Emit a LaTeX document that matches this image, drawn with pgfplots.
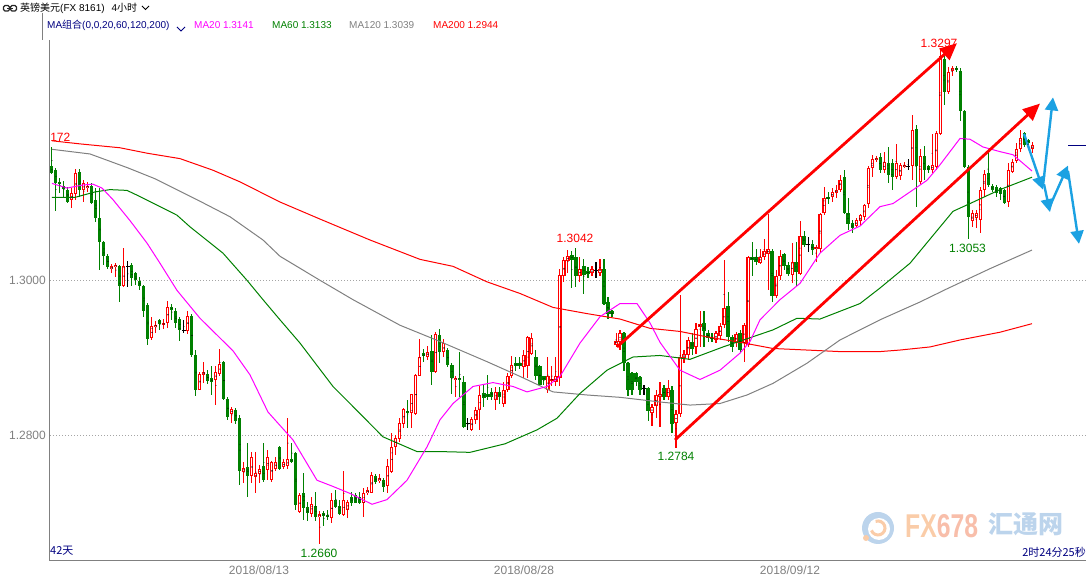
\documentclass[border=0pt]{standalone}
\usepackage{fontspec}
\setmainfont{Liberation Sans}
\newfontfamily\cjk{Noto Sans CJK SC}
\usepackage{graphicx}
\usepackage{pgfplots}
\usepackage{pgfplotstable}
\pgfplotsset{compat=1.18}
\usetikzlibrary{arrows.meta}

\definecolor{cred}{RGB}{255,0,0}
\definecolor{cgreen}{RGB}{0,128,0}
\definecolor{cmag}{RGB}{255,0,255}
\definecolor{cgray}{RGB}{128,128,128}
\definecolor{cnavy}{RGB}{0,0,128}
\definecolor{cblue}{RGB}{27,161,226}
\definecolor{cgrid}{RGB}{165,165,165}
\definecolor{wmorange}{RGB}{250,204,168}
\definecolor{wmpink}{RGB}{248,190,170}
\definecolor{wmblue}{RGB}{188,212,236}

\newcommand\flbl{\fontsize{12}{14}\selectfont}
\newcommand\flgd{\fontsize{10}{12}\selectfont}

\pgfplotsset{
  candlebar/.style={only marks, mark=*, mark size=0.2pt, mark options={draw=none, fill=none},
    error bars/.cd, y dir=both, y explicit, error mark=none,
    error bar style={draw=#1, line width=1pt}},
  candlebody/.style 2 args={only marks, mark=*, mark size=0.2pt, mark options={draw=none, fill=none},
    error bars/.cd, y dir=both, y explicit, error mark=none,
    error bar style={draw=#1, line width=#2}},
}

% rising candles (red, hollow): i open high low close
\pgfplotstableread{
i o h l c
5 1.3104 1.3119 1.3094 1.3113
6 1.3111 1.3144 1.3104 1.3138
8 1.3116 1.3129 1.3101 1.3125
9 1.3119 1.3127 1.3114 1.3122
15 1.3015 1.3021 1.3009 1.3018
16 1.3017 1.3022 1.3004 1.3020
18 1.2993 1.3042 1.2991 1.3018
25 1.2925 1.2953 1.2923 1.2941
26 1.2940 1.2948 1.2932 1.2943
28 1.2943 1.2950 1.2937 1.2945
29 1.2945 1.2973 1.2939 1.2966
34 1.2935 1.2960 1.2931 1.2954
37 1.2859 1.2882 1.2858 1.2879
38 1.2878 1.2895 1.2867 1.2882
41 1.2871 1.2890 1.2839 1.2882
42 1.2879 1.2911 1.2877 1.2892
45 1.2828 1.2837 1.2816 1.2834
48 1.2753 1.2766 1.2739 1.2758
50 1.2747 1.2779 1.2738 1.2772
51 1.2746 1.2779 1.2726 1.2751
52 1.2750 1.2762 1.2738 1.2757
54 1.2755 1.2781 1.2742 1.2772
55 1.2743 1.2767 1.2740 1.2766
56 1.2756 1.2772 1.2754 1.2766
58 1.2759 1.2769 1.2756 1.2765
59 1.2760 1.2823 1.2757 1.2769
62 1.2701 1.2726 1.2700 1.2723
65 1.2699 1.2721 1.2695 1.2711
67 1.2695 1.2703 1.2660 1.2698
70 1.2694 1.2725 1.2687 1.2717
73 1.2697 1.2754 1.2696 1.2717
74 1.2704 1.2717 1.2693 1.2714
78 1.2713 1.2732 1.2695 1.2726
79 1.2726 1.2733 1.2723 1.2729
80 1.2726 1.2753 1.2725 1.2749
82 1.2741 1.2750 1.2738 1.2745
84 1.2735 1.2770 1.2726 1.2760
85 1.2753 1.2803 1.2752 1.2785
86 1.2785 1.2800 1.2775 1.2797
87 1.2795 1.2822 1.2792 1.2816
88 1.2815 1.2835 1.2810 1.2834
90 1.2829 1.2854 1.2810 1.2853
91 1.2827 1.2879 1.2826 1.2878
92 1.2877 1.2924 1.2876 1.2901
94 1.2901 1.2915 1.2897 1.2908
96 1.2882 1.2933 1.2881 1.2931
98 1.2907 1.2924 1.2901 1.2919
101 1.2871 1.2876 1.2850 1.2874
105 1.2807 1.2824 1.2806 1.2821
106 1.2820 1.2837 1.2815 1.2833
107 1.2832 1.2863 1.2807 1.2852
111 1.2846 1.2863 1.2833 1.2856
113 1.2840 1.2869 1.2837 1.2859
114 1.2859 1.2880 1.2856 1.2876
115 1.2876 1.2902 1.2874 1.2891
118 1.2888 1.2910 1.2874 1.2904
119 1.2889 1.2928 1.2874 1.2927
120 1.2905 1.2932 1.2904 1.2926
124 1.2859 1.2901 1.2854 1.2876
125 1.2871 1.2889 1.2864 1.2873
126 1.2869 1.2901 1.2863 1.2876
127 1.2874 1.3015 1.2863 1.3007
128 1.3005 1.3030 1.2998 1.3026
129 1.3025 1.3039 1.3009 1.3031
132 1.3005 1.3030 1.2998 1.3015
135 1.3010 1.3018 1.3005 1.3014
137 1.3010 1.3028 1.3005 1.3015
141 1.2917 1.2932 1.2914 1.2922
142 1.2921 1.2936 1.2910 1.2932
150 1.2829 1.2841 1.2812 1.2836
151 1.2838 1.2858 1.2822 1.2852
152 1.2850 1.2869 1.2811 1.2854
154 1.2850 1.2871 1.2846 1.2861
156 1.2816 1.2833 1.2784 1.2827
157 1.2827 1.2981 1.2824 1.2901
158 1.2900 1.2910 1.2893 1.2905
159 1.2904 1.2927 1.2897 1.2923
161 1.2914 1.2945 1.2905 1.2937
162 1.2940 1.2960 1.2914 1.2944
166 1.2923 1.2934 1.2919 1.2932
167 1.2928 1.2945 1.2923 1.2941
168 1.2942 1.3026 1.2938 1.2964
171 1.2919 1.2934 1.2914 1.2931
173 1.2919 1.2945 1.2895 1.2942
174 1.2917 1.3031 1.2914 1.3030
177 1.3023 1.3041 1.3021 1.3030
178 1.3030 1.3053 1.3026 1.3038
179 1.3034 1.3086 1.2987 1.3040
181 1.2980 1.3013 1.2977 1.3006
182 1.3006 1.3039 1.3000 1.3031
185 1.3007 1.3048 1.2996 1.3024
187 1.3008 1.3076 1.3007 1.3057
191 1.3040 1.3046 1.3024 1.3043
192 1.3041 1.3087 1.3035 1.3086
193 1.3087 1.3121 1.3084 1.3106
195 1.3107 1.3119 1.3101 1.3114
196 1.3113 1.3123 1.3106 1.3117
197 1.3117 1.3136 1.3114 1.3130
201 1.3070 1.3080 1.3067 1.3078
202 1.3076 1.3086 1.3071 1.3084
203 1.3082 1.3099 1.3078 1.3097
204 1.3099 1.3147 1.3093 1.3145
205 1.3145 1.3162 1.3134 1.3157
206 1.3155 1.3160 1.3153 1.3158
208 1.3142 1.3166 1.3139 1.3152
211 1.3134 1.3176 1.3131 1.3152
212 1.3134 1.3152 1.3129 1.3149
213 1.3146 1.3152 1.3145 1.3149
215 1.3147 1.3213 1.3129 1.3194
217 1.3127 1.3170 1.3124 1.3160
220 1.3142 1.3189 1.3139 1.3149
221 1.3146 1.3192 1.3142 1.3190
222 1.3189 1.3297 1.3187 1.3289
224 1.3243 1.3275 1.3241 1.3269
225 1.3270 1.3276 1.3263 1.3274
230 1.3076 1.3091 1.3069 1.3087
231 1.3080 1.3091 1.3067 1.3087
232 1.3078 1.3121 1.3061 1.3117
233 1.3117 1.3142 1.3108 1.3137
239 1.3101 1.3151 1.3095 1.3142
240 1.3140 1.3157 1.3138 1.3153
241 1.3154 1.3177 1.3152 1.3169
242 1.3169 1.3194 1.3166 1.3183
245 1.3169 1.3179 1.3164 1.3175
}\upc

% falling candles (green, filled)
\pgfplotstableread{
i o h l c
0 1.3147 1.3172 1.3137 1.3139
1 1.3142 1.3145 1.3089 1.3126
2 1.3127 1.3132 1.3113 1.3124
3 1.3122 1.3128 1.3107 1.3118
4 1.3117 1.3121 1.3100 1.3101
7 1.3140 1.3144 1.3107 1.3116
10 1.3122 1.3125 1.3098 1.3100
11 1.3104 1.3119 1.3075 1.3081
12 1.3080 1.3119 1.3013 1.3050
13 1.3050 1.3051 1.3020 1.3031
14 1.3031 1.3034 1.3015 1.3017
17 1.3018 1.3020 1.2972 1.2993
20 1.3020 1.3022 1.2993 1.3003
21 1.3009 1.3011 1.2994 1.3000
22 1.2999 1.3004 1.2987 1.2992
23 1.2993 1.2994 1.2953 1.2961
24 1.2968 1.2971 1.2917 1.2924
27 1.2949 1.2950 1.2936 1.2944
30 1.2966 1.2969 1.2949 1.2962
31 1.2961 1.2964 1.2938 1.2945
32 1.2950 1.2953 1.2922 1.2936
35 1.2954 1.2957 1.2901 1.2904
36 1.2904 1.2910 1.2851 1.2859
39 1.2879 1.2884 1.2866 1.2870
40 1.2874 1.2889 1.2852 1.2869
43 1.2894 1.2896 1.2846 1.2847
44 1.2847 1.2849 1.2820 1.2823
46 1.2833 1.2835 1.2815 1.2818
47 1.2823 1.2826 1.2736 1.2754
49 1.2759 1.2790 1.2721 1.2748
53 1.2760 1.2790 1.2740 1.2742
57 1.2785 1.2786 1.2755 1.2757
60 1.2769 1.2790 1.2764 1.2766
61 1.2777 1.2778 1.2704 1.2710
63 1.2726 1.2751 1.2691 1.2706
64 1.2708 1.2714 1.2689 1.2700
66 1.2709 1.2727 1.2689 1.2695
68 1.2700 1.2703 1.2683 1.2696
69 1.2697 1.2704 1.2691 1.2694
71 1.2717 1.2729 1.2706 1.2708
72 1.2709 1.2717 1.2697 1.2698
75 1.2720 1.2727 1.2709 1.2713
76 1.2723 1.2726 1.2712 1.2713
77 1.2721 1.2727 1.2712 1.2713
81 1.2747 1.2750 1.2737 1.2740
83 1.2743 1.2745 1.2727 1.2733
89 1.2832 1.2846 1.2809 1.2829
93 1.2906 1.2911 1.2895 1.2902
95 1.2909 1.2929 1.2865 1.2882
97 1.2929 1.2937 1.2893 1.2907
99 1.2910 1.2912 1.2888 1.2891
100 1.2891 1.2893 1.2853 1.2874
102 1.2874 1.2907 1.2850 1.2872
103 1.2869 1.2876 1.2810 1.2811
108 1.2854 1.2865 1.2837 1.2848
109 1.2853 1.2878 1.2846 1.2849
110 1.2856 1.2861 1.2846 1.2850
112 1.2856 1.2863 1.2841 1.2850
116 1.2893 1.2901 1.2883 1.2889
117 1.2893 1.2901 1.2886 1.2889
121 1.2901 1.2910 1.2871 1.2876
122 1.2889 1.2891 1.2864 1.2865
123 1.2876 1.2877 1.2865 1.2871
130 1.3033 1.3038 1.2990 1.3026
131 1.3030 1.3042 1.2991 1.3005
133 1.3018 1.3028 1.2983 1.3007
134 1.3012 1.3017 1.3003 1.3008
138 1.3015 1.3028 1.2968 1.2970
139 1.2972 1.2979 1.2950 1.2957
140 1.2960 1.2962 1.2952 1.2956
143 1.2932 1.2933 1.2883 1.2893
144 1.2893 1.2894 1.2851 1.2858
145 1.2881 1.2882 1.2852 1.2858
146 1.2881 1.2882 1.2864 1.2869
147 1.2875 1.2876 1.2852 1.2859
149 1.2861 1.2862 1.2818 1.2831
153 1.2861 1.2865 1.2846 1.2849
155 1.2858 1.2863 1.2803 1.2815
160 1.2921 1.2932 1.2904 1.2912
163 1.2945 1.2961 1.2914 1.2934
164 1.2932 1.2936 1.2921 1.2925
165 1.2926 1.2932 1.2921 1.2924
169 1.2967 1.2985 1.2921 1.2927
170 1.2927 1.2929 1.2908 1.2914
172 1.2932 1.2936 1.2908 1.2910
175 1.3030 1.3050 1.3005 1.3026
176 1.3030 1.3040 1.3020 1.3024
180 1.3038 1.3040 1.2972 1.2980
183 1.3034 1.3035 1.3013 1.3018
184 1.3020 1.3024 1.3006 1.3008
186 1.3024 1.3050 1.2992 1.3011
188 1.3057 1.3063 1.3043 1.3046
190 1.3047 1.3052 1.3033 1.3039
194 1.3107 1.3114 1.3099 1.3105
198 1.3134 1.3142 1.3086 1.3087
199 1.3087 1.3106 1.3065 1.3073
200 1.3074 1.3078 1.3061 1.3068
207 1.3159 1.3164 1.3138 1.3142
209 1.3152 1.3172 1.3125 1.3136
210 1.3152 1.3156 1.3117 1.3134
216 1.3195 1.3200 1.3094 1.3147
218 1.3160 1.3173 1.3129 1.3142
219 1.3147 1.3149 1.3138 1.3142
223 1.3286 1.3291 1.3226 1.3243
226 1.3274 1.3277 1.3269 1.3271
227 1.3270 1.3274 1.3205 1.3218
228 1.3218 1.3220 1.3145 1.3146
229 1.3146 1.3149 1.3053 1.3082
234 1.3139 1.3166 1.3121 1.3123
235 1.3122 1.3124 1.3114 1.3117
236 1.3120 1.3123 1.3108 1.3113
237 1.3119 1.3121 1.3104 1.3112
238 1.3117 1.3118 1.3099 1.3100
243 1.3190 1.3191 1.3172 1.3175
244 1.3181 1.3183 1.3168 1.3177
}\dnc

% unchanged (doji, black)
\pgfplotstableread{
i o h l c
19 1.3018 1.3025 1.2992 1.3018
33 1.2935 1.2949 1.2932 1.2935
104 1.2815 1.2822 1.2807 1.2815
136 1.3013 1.3023 1.3003 1.3013
148 1.2860 1.2865 1.2852 1.2860
189 1.3046 1.3056 1.3037 1.3046
214 1.3147 1.3157 1.3142 1.3147
}\djc

\begin{document}
\begin{tikzpicture}
\path[use as bounding box] (0pt,0pt) rectangle (1086pt,577pt);

% watermark
\fill[wmblue] (878pt,49pt) circle (16pt);
\fill[white] (879pt,48pt) circle (11pt);
\draw[wmorange, line width=3pt] (878pt,49pt) ++(200:7pt) arc (200:470:7pt);
\fill[wmorange] (866pt,39pt) circle (3pt);
\node[anchor=base west, inner sep=0pt, text=wmorange, font=\fontsize{33}{36}\selectfont\bfseries] at (905pt,39pt) {\scalebox{0.75}[1]{FX\textcolor{wmpink}{678}}};
\node[anchor=base west, inner sep=0pt, text=wmblue, font=\fontsize{25}{28}\selectfont\cjk\bfseries] at (988pt,43pt) {汇通网};

\begin{axis}[
  at={(50pt,16pt)}, anchor=south west, scale only axis,
  width=1036pt, height=521pt,
  xmin=-0.5, xmax=258.5, ymin=1.263781, ymax=1.331006,
  clip=false,
  axis x line*=bottom, axis y line*=left,
  axis line style={-, cgray, line width=1pt},
  major tick length=0pt,
  xtick={51.75,118,184.5}, xticklabels={2018/08/13,2018/08/28,2018/09/12},
  ytick={1.28,1.30}, yticklabels={1.2800,1.3000},
  xticklabel style={font=\flbl, text=cgray, inner sep=0pt, yshift=-5pt},
  yticklabel style={font=\flbl, text=cgray, inner sep=0pt, xshift=-4pt},
  ymajorgrids, grid style={cgrid, dash pattern=on 1pt off 2pt, line width=0.8pt},
]
% rising candles: wick, body, hollow interior
\addplot[candlebar=cred] table[x=i, y expr={(\thisrow{h}+\thisrow{l})/2}, y error expr={(\thisrow{h}-\thisrow{l})/2}] {\upc};
\addplot[candlebody={cred}{3pt}] table[x=i, y expr={(\thisrow{o}+\thisrow{c})/2}, y error expr={(\thisrow{c}-\thisrow{o})/2}] {\upc};
\addplot[candlebody={white}{1pt}] table[x=i, y expr={(\thisrow{o}+\thisrow{c})/2}, y error expr={max((\thisrow{c}-\thisrow{o})/2-0.00013,0)}] {\upc};
% falling candles
\addplot[candlebar=cgreen] table[x=i, y expr={(\thisrow{h}+\thisrow{l})/2}, y error expr={(\thisrow{h}-\thisrow{l})/2}] {\dnc};
\addplot[candlebody={cgreen}{3pt}] table[x=i, y expr={(\thisrow{o}+\thisrow{c})/2}, y error expr={(\thisrow{o}-\thisrow{c})/2}] {\dnc};
% doji
\addplot[candlebar=black] table[x=i, y expr={(\thisrow{h}+\thisrow{l})/2}, y error expr={(\thisrow{h}-\thisrow{l})/2}] {\djc};
\addplot[only marks, mark=-, mark size=1.6pt, mark options={draw=black, line width=1pt}] table[x=i, y=o] {\djc};

% MA200
\addplot[cred, line width=1pt] coordinates {(0,1.3180) (7,1.3176) (17,1.3171) (23.75,1.3164) (32,1.3157) (40.25,1.3142) (47,1.3127) (57,1.3101) (67,1.3079) (79.5,1.3052) (92,1.3027) (100.25,1.3018) (108.75,1.2998) (117,1.2983) (125.25,1.2965) (133.75,1.2957) (142,1.2950) (149.5,1.2938) (157,1.2934) (163.75,1.2927) (172,1.2920) (180.25,1.2912) (188.75,1.2910) (197,1.2908) (207,1.2908) (212,1.2910) (219.5,1.2914) (227,1.2923) (237,1.2933) (245,1.2944)};
% MA120
\addplot[cgray, line width=1pt] coordinates {(0,1.3169) (9.5,1.3163) (19,1.3145) (25.75,1.3131) (36.25,1.3104) (44.5,1.3082) (52.75,1.3052) (57,1.3031) (67,1.3000) (75.25,1.2975) (87,1.2942) (97,1.2921) (108.75,1.2895) (117,1.2876) (125.25,1.2856) (133.75,1.2852) (142,1.2849) (152,1.2843) (159.5,1.2839) (167,1.2841) (173.75,1.2852) (180.25,1.2867) (188.75,1.2893) (197,1.2923) (207,1.2949) (217,1.2972) (223.75,1.2989) (234.5,1.3015) (245,1.3039)};
% MA60
\addplot[cgreen, line width=1pt] coordinates {(0,1.3107) (5.75,1.3107) (10.75,1.3114) (14.5,1.3117) (18.75,1.3116) (22,1.3108) (26.25,1.3097) (31.25,1.3084) (34.5,1.3069) (42.75,1.3035) (48.75,1.3000) (52.75,1.2975) (57,1.2949) (62,1.2919) (70.25,1.2863) (74.5,1.2841) (82.75,1.2798) (91.25,1.2779) (97,1.2779) (104.5,1.2778) (113.25,1.2789) (121.25,1.2807) (126.25,1.2822) (132,1.2854) (138.75,1.2884) (145.25,1.2901) (152,1.2903) (159.5,1.2898) (167.75,1.2914) (180.25,1.2936) (186.25,1.2951) (192,1.2950) (202,1.2970) (207,1.2990) (214.5,1.3022) (225.25,1.3089) (229.5,1.3099) (237,1.3117) (245,1.3133)};
% MA20
\addplot[cmag, line width=1pt] coordinates {(0,1.3125) (3.75,1.3119) (7.75,1.3123) (10.25,1.3124) (12.5,1.3119) (15.25,1.3104) (19.5,1.3077) (23.75,1.3048) (27,1.3022) (31.25,1.2987) (37,1.2951) (45.25,1.2909) (49.5,1.2878) (54,1.2830) (60.25,1.2794) (66.25,1.2742) (70.25,1.2734) (74.5,1.2725) (80,1.2711) (83.75,1.2717) (88.75,1.2742) (93.75,1.2785) (97,1.2820) (100.25,1.2841) (105.25,1.2863) (110.25,1.2868) (115.25,1.2863) (118.75,1.2856) (123.75,1.2863) (127,1.2876) (132,1.2919) (137,1.2953) (142,1.2970) (146.25,1.2970) (149.5,1.2945) (152,1.2920) (157,1.2884) (162,1.2872) (167,1.2884) (172,1.2906) (174.5,1.2921) (177,1.2949) (182,1.2975) (187,1.2996) (192,1.3035) (197,1.3058) (202,1.3070) (207,1.3095) (210.25,1.3099) (218.75,1.3129) (222,1.3149) (227,1.3183) (229.5,1.3182) (232.75,1.3172) (237,1.3166) (240.25,1.3162) (245,1.3141)};

% channel lines
\addplot[cred, line width=2.8pt, -{Triangle[length=17pt,width=15pt]}] coordinates {(141.25,1.2914) (226.25,1.3306)};
\addplot[cred, line width=2.8pt, -{Triangle[length=17pt,width=15pt]}] coordinates {(155.75,1.2794) (247,1.3228)};
% blue arrows
\addplot[cblue, line width=2.4pt, -{Triangle[length=13pt,width=13pt]}] coordinates {(243,1.3189) (247.75,1.3117)};
\addplot[cblue, line width=2.4pt, -{Triangle[length=13pt,width=13pt]}] coordinates {(247.75,1.3122) (250.25,1.3236)};
\addplot[cblue, line width=2.4pt, -{Triangle[length=13pt,width=13pt]}] coordinates {(248,1.3124) (249.5,1.3088)};
\addplot[cblue, line width=2.4pt, -{Triangle[length=13pt,width=13pt]}] coordinates {(249.5,1.3096) (254,1.3148)};
\addplot[cblue, line width=2.4pt, -{Triangle[length=13pt,width=13pt]}] coordinates {(254,1.3141) (256.75,1.3047)};
\end{axis}

% value labels
\node[inner sep=0pt, text=cred, font=\flbl] at (575pt,339pt) {1.3042};
\node[inner sep=0pt, text=cgreen, font=\flbl] at (319pt,24pt) {1.2660};
\node[inner sep=0pt, text=cgreen, font=\flbl] at (676pt,121pt) {1.2784};
\node[inner sep=0pt, text=cred, font=\flbl] at (939pt,534pt) {1.3297};
\node[inner sep=0pt, text=cgreen, font=\flbl] at (967.5pt,329pt) {1.3053};
\node[inner sep=0pt, text=cred, font=\flbl] at (60.3pt,440pt) {172};

% bottom corner texts
\node[anchor=west, inner sep=0pt, text=cnavy, font=\fontsize{11}{13}\selectfont\cjk] at (50pt,26pt) {42天};
\node[anchor=east, inner sep=0pt, text=cnavy, font=\fontsize{11}{13}\selectfont\cjk] at (1086pt,25pt) {2时24分25秒};
\draw[cnavy, line width=1pt] (1068pt,431pt) -- (1086pt,431pt);

% header row 1
\draw[black!85, line width=1.1pt, rounded corners=1.5pt] (3.5pt,566pt) rectangle (9.5pt,571.5pt);
\draw[black!85, line width=1.1pt, rounded corners=1.5pt] (10.5pt,566pt) rectangle (16.5pt,571.5pt);
\draw[black!85, line width=1.1pt] (7pt,568.75pt) -- (13pt,568.75pt);
\node[anchor=west, inner sep=0pt, font=\fontsize{10}{12}\selectfont] at (20pt,569pt) {{\cjk 英镑美元}(FX 8161)\hspace{7pt}4{\cjk 小时}};
\draw[black, line width=1pt] (142pt,571pt) -- (145.5pt,567.5pt) -- (149pt,571pt);
% header row 2
\draw[cgray, line width=1pt] (42.7pt,564pt) -- (42.7pt,537pt);
\node[anchor=west, inner sep=0pt, text=cnavy, font=\flgd] at (47pt,552pt) {MA{\cjk 组合}(0,0,20,60,120,200)};
\draw[cnavy, line width=1pt] (177pt,550pt) -- (181pt,546pt) -- (185pt,550pt);
\node[anchor=west, inner sep=0pt, text=cmag, font=\flgd] at (194pt,552pt) {MA20 1.3141};
\node[anchor=west, inner sep=0pt, text=cgreen, font=\flgd] at (272pt,552pt) {MA60 1.3133};
\node[anchor=west, inner sep=0pt, text=cgray, font=\flgd] at (349pt,552pt) {MA120 1.3039};
\node[anchor=west, inner sep=0pt, text=cred, font=\flgd] at (433pt,552pt) {MA200 1.2944};
\end{tikzpicture}
\end{document}
